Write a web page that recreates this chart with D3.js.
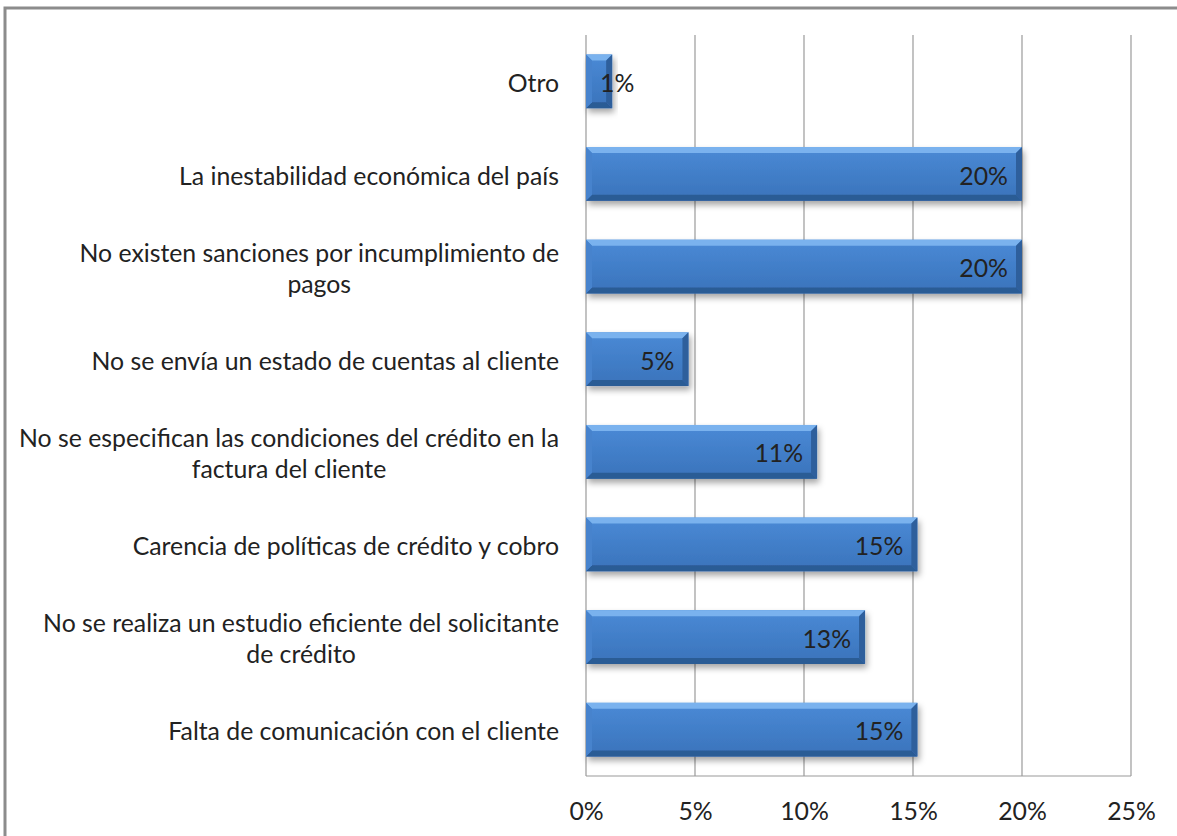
<!DOCTYPE html>
<html>
<head>
<meta charset="utf-8">
<script src="https://cdn.jsdelivr.net/npm/d3@7"></script>
<style>
  html, body { margin: 0; padding: 0; background: #fff; }
  svg { display: block; }
  text { font-family: Lato, "Noto Sans", sans-serif; fill: #222; }
</style>
</head>
<body>
<svg id="chart" width="1177" height="836"></svg>
<script>
// Causas de la morosidad (porcentaje de respuestas)
const categories = [
  "Otro",
  "La inestabilidad económica del país",
  "No existen sanciones por incumplimiento de|pagos",
  "No se envía un estado de cuentas al cliente",
  "No se especifican las condiciones del crédito en la|factura del cliente",
  "Carencia de políticas de crédito y cobro",
  "No se realiza un estudio eficiente del solicitante|de crédito",
  "Falta de comunicación con el cliente"
];
const values = [1.2, 20, 20, 4.7, 10.6, 15.2, 12.8, 15.2];
const tickValues = [0, 5, 10, 15, 20, 25];

const W = 1177, H = 836;
const margin = { left: 586, right: 46, top: 35, bottom: 60 };
const fontSize = 24.8;

const svg = d3.select("#chart");

// frame
svg.append("rect")
  .attr("x", 5).attr("y", 8)
  .attr("width", W + 20).attr("height", H + 20)
  .attr("fill", "none").attr("stroke", "#8c8c8c").attr("stroke-width", 3);

const x = d3.scaleLinear().domain([0, 25]).range([margin.left, W - margin.right]);
const y = d3.scaleBand().domain(d3.range(categories.length))
  .range([margin.top, H - margin.bottom])
  .paddingInner(0.42).paddingOuter(0.21);

const defs = svg.append("defs");
const grad = defs.append("linearGradient").attr("id", "barFill")
  .attr("x1", 0).attr("y1", 0).attr("x2", 0).attr("y2", 1);
grad.append("stop").attr("offset", "0%").attr("stop-color", "#4a8ad6");
grad.append("stop").attr("offset", "100%").attr("stop-color", "#3a73bb");

const shadow = defs.append("filter").attr("id", "barShadow")
  .attr("x", "-10%").attr("y", "-30%").attr("width", "130%").attr("height", "180%");
shadow.append("feDropShadow")
  .attr("dx", 2).attr("dy", 4).attr("stdDeviation", 3)
  .attr("flood-color", "#000").attr("flood-opacity", 0.35);

// gridlines
svg.append("g").selectAll("line").data(tickValues).join("line")
  .attr("x1", d => x(d)).attr("x2", d => x(d))
  .attr("y1", margin.top).attr("y2", H - margin.bottom)
  .attr("stroke", "#9a9a9a").attr("stroke-width", 1.2);

// bottom axis line
svg.append("line")
  .attr("x1", x(0)).attr("x2", x(25))
  .attr("y1", H - margin.bottom).attr("y2", H - margin.bottom)
  .attr("stroke", "#9a9a9a").attr("stroke-width", 1.2);

// tick labels via d3 axis
const axis = svg.append("g")
  .attr("transform", `translate(0,${H - margin.bottom})`)
  .call(d3.axisBottom(x).tickValues(tickValues).tickFormat(d => d + "%").tickSize(0).tickPadding(26));
axis.select(".domain").remove();
axis.selectAll("text")
  .style("font-family", "Lato, 'Noto Sans', sans-serif")
  .style("font-size", fontSize + "px")
  .attr("fill", "#222");

// bars with bevelled edges
const b = 6;
const bars = svg.append("g").selectAll("g.bar").data(values).join("g")
  .attr("class", "bar").attr("filter", "url(#barShadow)");

bars.each(function(v, i) {
  const g = d3.select(this);
  const x0 = x(0), x1 = x(v), y0 = y(i), y1 = y(i) + y.bandwidth();
  g.append("rect").attr("x", x0).attr("y", y0)
    .attr("width", x1 - x0).attr("height", y1 - y0).attr("fill", "url(#barFill)");
  const poly = (pts, fill) => g.append("polygon")
    .attr("points", pts.map(p => p.join(",")).join(" ")).attr("fill", fill);
  poly([[x0, y0], [x1, y0], [x1 - b, y0 + b], [x0 + b, y0 + b]], "#7ab2ee");
  poly([[x0, y1], [x1, y1], [x1 - b, y1 - b], [x0 + b, y1 - b]], "#2c5b95");
  poly([[x0, y0], [x0 + b, y0 + b], [x0 + b, y1 - b], [x0, y1]], "#4683cd");
  poly([[x1, y0], [x1 - b, y0 + b], [x1 - b, y1 - b], [x1, y1]], "#2e5f9c");
});

// value labels at the inner end of each bar
const valueLabels = svg.append("g").selectAll("text").data(values).join("text")
  .attr("y", (d, i) => y(i) + y.bandwidth() / 2 + 2)
  .attr("dy", "0.35em")
  .attr("text-anchor", "end")
  .style("font-size", fontSize + "px")
  .text(d => d3.format(".0f")(d) + "%");
valueLabels.attr("x", function(d) {
  const w = this.getComputedTextLength();
  return Math.max(x(d) - 14, x(0) + 14 + w);
});

// category labels, right aligned, multi-line blocks centred on their widest line
const labelRight = 559;
const lineH = 31;
const catG = svg.append("g");
categories.forEach((c, i) => {
  const lines = c.split("|");
  const t = catG.append("text").style("font-size", fontSize + "px");
  const cy = y(i) + y.bandwidth() / 2 + 2;
  lines.forEach((ln, k) => {
    t.append("tspan").text(ln)
      .attr("y", cy + (k - (lines.length - 1) / 2) * lineH)
      .attr("dy", "0.35em");
  });
  const widths = [];
  t.selectAll("tspan").each(function() { widths.push(this.getComputedTextLength()); });
  const maxW = d3.max(widths);
  t.attr("text-anchor", "middle");
  t.selectAll("tspan").attr("x", labelRight - maxW / 2);
});
</script>
</body>
</html>
